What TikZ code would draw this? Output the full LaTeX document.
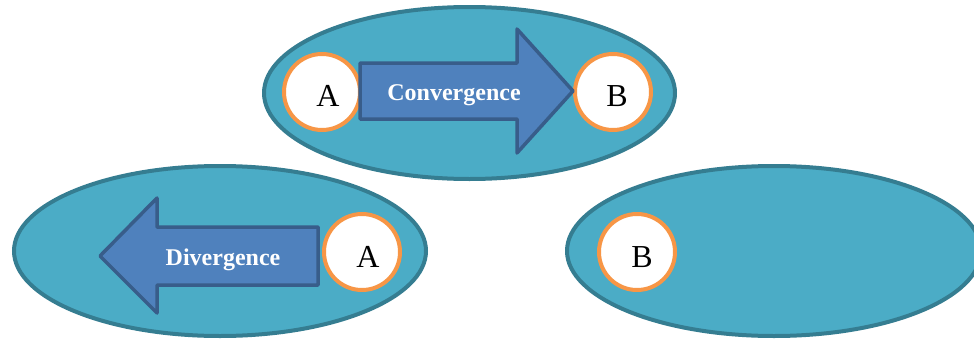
\documentclass[tikz,border=0pt]{standalone}
\usepackage{fontspec}
\setmainfont{Liberation Serif}
\usetikzlibrary{shapes.geometric}
\definecolor{ellfill}{HTML}{4BACC6}
\definecolor{elldraw}{HTML}{357D91}
\definecolor{orng}{HTML}{F79646}
\definecolor{arrfill}{HTML}{4F81BD}
\definecolor{arrdraw}{HTML}{385D8A}
\begin{document}
\begin{tikzpicture}[x=1pt,y=-1pt,
  oval/.style={ellipse, draw=elldraw, fill=ellfill, line width=4pt, inner sep=0pt},
  ring/.style={circle, draw=orng, fill=white, line width=4pt, minimum size=76pt, inner sep=0pt},
  letter/.style={anchor=base, font=\fontsize{32}{36}\selectfont, text=black},
  blockarrow/.style={draw=arrdraw, fill=arrfill, line width=3.5pt, line join=round},
  arrowtext/.style={anchor=base, font=\fontsize{24}{28}\selectfont\bfseries, text=white}]
\useasboundingbox (0,0) rectangle (974,343);
% containers
\node[oval, minimum width=411pt, minimum height=172pt] (top) at (469.5,93) {};
\node[oval, minimum width=412pt, minimum height=170pt] (left) at (220,251) {};
\node[oval, minimum width=414pt, minimum height=170pt] (right) at (774,251) {};
% circles
\node[ring] (ta) at (322,92) {};
\node[ring] (tb) at (613,92) {};
\node[ring] (la) at (362,252) {};
\node[ring] (rb) at (637,252) {};
% convergence arrow
\draw[blockarrow] (360,63) -- (517,63) -- (517,29) -- (573,91) -- (517,153) -- (517,119) -- (360,119) -- cycle;
\node[arrowtext] (conv) at (454,100) {Convergence};
% divergence arrow
\draw[blockarrow] (318,227) -- (157,227) -- (157,198) -- (100,256) -- (157,313) -- (157,285) -- (318,285) -- cycle;
\node[arrowtext] (div) at (223,265) {Divergence};
% letters
\node[letter] (tal) at (328,106) {A};
\node[letter] (tbl) at (617,106) {B};
\node[letter] (lal) at (368,267) {A};
\node[letter] (rbl) at (642,267) {B};
\end{tikzpicture}
\end{document}
